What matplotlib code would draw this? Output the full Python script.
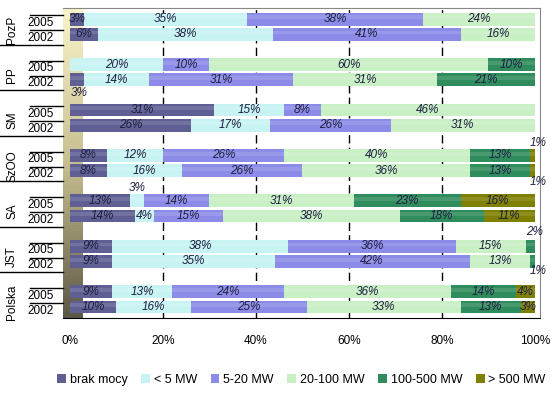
import matplotlib.pyplot as plt
import matplotlib.transforms as mtransforms
from matplotlib.colors import LinearSegmentedColormap
import numpy as np

plt.rcParams['font.family'] = ['Liberation Sans', 'DejaVu Sans']

groups = ["PozP", "PP", "SM", "SzOO", "SA", "JST", "Polska"]
years = ["2005", "2002"]
series = ["brak mocy", "< 5 MW", "5-20 MW", "20-100 MW", "100-500 MW", "> 500 MW"]
colors = ["#5f5f94", "#c8f3f3", "#8c8ce8", "#c8f0c4", "#2f8c5c", "#7f7f00"]

# rows from top: PozP 2005, PozP 2002, PP 2005, PP 2002, ... Polska 2002 (values in %)
brak      = [3, 6, 0, 3, 31, 26, 8, 8, 13, 14, 9, 9, 9, 10]
lt5       = [35, 38, 20, 14, 15, 17, 12, 16, 3, 4, 38, 35, 13, 16]
mw5_20    = [38, 41, 10, 31, 8, 26, 26, 26, 14, 15, 36, 42, 24, 25]
mw20_100  = [24, 16, 60, 31, 46, 31, 40, 36, 31, 38, 15, 13, 36, 33]
mw100_500 = [0, 0, 10, 21, 0, 0, 13, 13, 23, 18, 2, 1, 14, 13]
gt500     = [0, 0, 0, 0, 0, 0, 1, 1, 16, 11, 0, 0, 4, 3]

# labels drawn off the bar: (row, series) -> (dx, dy)
outside = {(3, 0): (0.5, 0.9), (8, 1): (0, -0.85), (6, 5): (1.2, -0.8),
           (7, 5): (1.2, 0.75), (10, 4): (1.0, -0.95), (11, 4): (1.2, 0.6)}

data = np.array([brak, lt5, mw5_20, mw20_100, mw100_500, gt500], dtype=float)
pct = data / data.sum(axis=0) * 100

ypos = np.array([g * 3 + k for g in range(len(groups)) for k in range(2)])

fig = plt.figure(figsize=(5.53, 3.97), dpi=100)
ax = fig.add_axes([63 / 553, (397 - 318) / 397, 477 / 553, 310 / 397])

# left wall
grad = np.linspace(0, 1, 100).reshape(-1, 1)
wall_cmap = LinearSegmentedColormap.from_list("wall", ["#f8f3c8", "#c8bf90", "#5c5846"])
ax.imshow(grad, cmap=wall_cmap, aspect="auto", extent=[-1.5, 2.8, 19.73, -0.73], zorder=0)

for x in [20, 40, 60, 80]:
    ax.axvline(x, color="black", lw=1, ls=(0, (6, 3)), zorder=1)

left = np.zeros(len(ypos))
for i, name in enumerate(series):
    ax.barh(ypos, pct[i], left=left, height=0.85, color=colors[i],
            edgecolor="none", label=name, zorder=2)
    # light stripe to hint at the cylinder shading
    ax.barh(ypos - 0.12, pct[i], left=left, height=0.25, color="white",
            alpha=0.12, edgecolor="none", zorder=2.1)
    for r in range(len(ypos)):
        v = data[i, r]
        if v == 0:
            continue
        cx = left[r] + pct[i, r] / 2
        cy = ypos[r]
        if (r, i) in outside:
            dx, dy = outside[(r, i)]
            cx, cy = cx + dx, cy + dy
        ax.text(cx, cy, f"{int(v)}%", ha="center", va="center", fontsize=8.5,
                style="italic", color="#1e1e40", zorder=3)
    left += pct[i]

ax.set_xlim(-1.5, 101.1)
ax.set_ylim(19.73, -0.73)
ax.set_xticks([0, 20, 40, 60, 80, 100])
ax.set_xticklabels(["0%", "20%", "40%", "60%", "80%", "100%"], fontsize=8.5)
ax.tick_params(axis="x", length=0, pad=12)
ax.set_yticks([])
ax.spines["left"].set_visible(False)
ax.spines["top"].set_color("#888888")
ax.spines["right"].set_color("#888888")

# category table on the left
trans = mtransforms.blended_transform_factory(ax.transAxes, ax.transData)
x_lab = -63 / 477
x_year = -33 / 477
for g, name in enumerate(groups):
    y05 = g * 3
    for y in [y05 - 0.25, y05 + 0.75]:
        ax.plot([x_year, 0], [y, y], color="black", lw=1, transform=trans, clip_on=False)
    if g < len(groups) - 1:
        ax.plot([x_lab, 0], [y05 + 1.7, y05 + 1.7], color="black", lw=1,
                transform=trans, clip_on=False)
    for k, yr in enumerate(years):
        ax.text(-22 / 477, y05 + k + 0.25, yr, transform=trans, ha="center",
                va="center", fontsize=8.5)
    ax.text(-51 / 477, y05 + 0.7, name, transform=trans, rotation=90,
            ha="center", va="center", fontsize=8.5)

fig.legend(loc="lower center", bbox_to_anchor=(0.545, 0.0), ncol=6, frameon=False,
           fontsize=9, handlelength=0.7, handleheight=0.7, handletextpad=0.3,
           columnspacing=1.1)

fig.savefig("out.png", dpi=100, facecolor="white")
